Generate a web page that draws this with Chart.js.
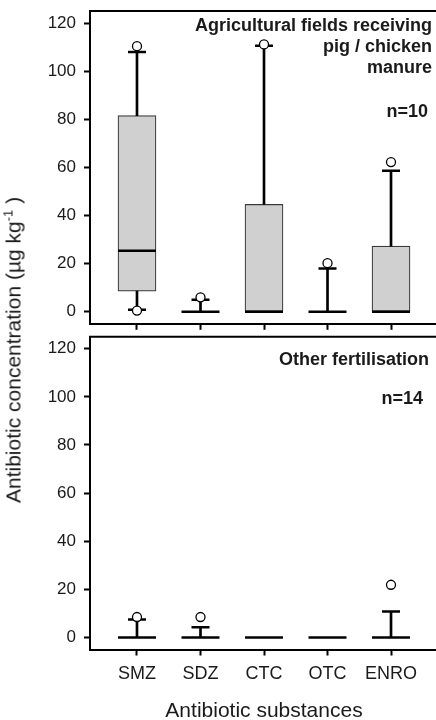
<!DOCTYPE html>
<html>
<head>
<meta charset="utf-8">
<script src="https://cdn.jsdelivr.net/npm/chart.js@4"></script>
<style>
  html, body { margin: 0; padding: 0; background: #fff; }
  #wrap { position: relative; width: 436px; height: 720px; overflow: hidden; font-family: "Liberation Sans", Arial, sans-serif; color: #1a1a1a; }
  .panel { position: absolute; left: 0; width: 440px; }
  .note { position: absolute; font-weight: bold; font-size: 18px; line-height: 21px; text-align: right; white-space: nowrap; }
  .atitle { position: absolute; font-size: 21px; line-height: 21px; white-space: nowrap; }
  sup { font-size: 13px; line-height: 0; vertical-align: 8px; }
</style>
</head>
<body>
<div id="wrap">
  <div class="panel" style="top:0;height:330px"><canvas id="topChart"></canvas></div>
  <div class="panel" style="top:330px;height:390px"><canvas id="bottomChart"></canvas></div>

  <div class="note" style="top:15px;right:4px">Agricultural fields receiving<br>pig / chicken<br>manure</div>
  <div class="note" style="top:101px;right:8px">n=10</div>
  <div class="note" style="top:349px;right:7px">Other fertilisation</div>
  <div class="note" style="top:388px;right:13px">n=14</div>

  <div class="atitle" style="left:13px;top:350px;transform:translate(-50%,-50%) rotate(-90deg)">Antibiotic concentration (µg kg<sup>-1</sup> )</div>
  <div class="atitle" style="left:264px;top:699px;transform:translateX(-50%)">Antibiotic substances</div>
</div>

<script>
const categories = ['SMZ', 'SDZ', 'CTC', 'OTC', 'ENRO'];
const yTicks = [0, 20, 40, 60, 80, 100, 120];

// pig / chicken manure fields, n=10
const manureQ1 = [8.6, 0, 0, 0, 0];
const manureMedian = [25.4, 0, 0, 0, 0];
const manureQ3 = [81.5, 0, 44.6, 0, 27.3];
const manureLow = [0.8, 0, 0, 0, 0];
const manureHigh = [108, 5, 110.6, 18, 58.6];
const manureOutliers = [[110.4, 0.5], [6], [111.1], [20.2], [62.2]];

// other fertilisation, n=14
const otherQ1 = [0, 0, 0, 0, 0];
const otherMedian = [0, 0, 0, 0, 0];
const otherQ3 = [0, 0, 0, 0, 0];
const otherLow = [0, 0, 0, 0, 0];
const otherHigh = [7.5, 4.2, 0, 0, 10.8];
const otherOutliers = [[8.5], [8.5], [], [], [21.9]];

function boxDatasets(q1, med, q3, lo, hi, outs) {
    const boxes = [], whiskers = [], caps = [], medians = [], points = [];
    categories.forEach((c, i) => {
        const x = i + 1;
        if (q3[i] > q1[i]) boxes.push({x: x, y: [q1[i], q3[i]]});
        if (hi[i] > q3[i]) { whiskers.push({x: x, y: [q3[i], hi[i]]}); caps.push({x: x, y: hi[i]}); }
        if (lo[i] < q1[i]) { whiskers.push({x: x, y: [lo[i], q1[i]]}); caps.push({x: x, y: lo[i]}); }
        medians.push({x: x, y: med[i]});
        outs[i].forEach(v => points.push({x: x, y: v}));
    });
    return [
        {type: 'bar', data: boxes, backgroundColor: '#d0d0d0', borderColor: '#3a3a3a',
         borderWidth: 1.2, borderSkipped: false, barThickness: 38, grouped: false, order: 5},
        {type: 'bar', data: whiskers, backgroundColor: '#000', borderWidth: 0,
         barThickness: 2, grouped: false, order: 4},
        {type: 'scatter', data: caps, pointStyle: 'line', pointRadius: 9,
         borderColor: '#000', pointBorderWidth: 2.5, order: 3},
        {type: 'scatter', data: medians, pointStyle: 'line', pointRadius: 19,
         borderColor: '#000', pointBorderWidth: 2.5, order: 2},
        {type: 'scatter', data: points, pointStyle: 'circle', pointRadius: 4.5,
         backgroundColor: '#fff', borderColor: '#000', pointBorderWidth: 1.3, order: 1}
    ];
}

const topLine = {
    id: 'topLine',
    afterDraw(chart) {
        const a = chart.chartArea, ctx = chart.ctx;
        ctx.save();
        ctx.strokeStyle = '#000';
        ctx.lineWidth = 2;
        ctx.beginPath();
        ctx.moveTo(a.left - 1, a.top);
        ctx.lineTo(a.right + 2, a.top);
        ctx.stroke();
        ctx.restore();
    }
};

function makeOptions(padTop, xHeight, showLabels) {
    return {
        responsive: false,
        animation: false,
        events: [],
        layout: {autoPadding: false, padding: {top: padTop, left: 0, right: 2, bottom: 0}},
        plugins: {legend: {display: false}, tooltip: {enabled: false}},
        scales: {
            x: {
                type: 'linear', min: 0.26, max: 5.74, offset: false,
                afterBuildTicks: s => { s.ticks = categories.map((c, i) => ({value: i + 1})); },
                afterFit: s => { s.height = xHeight; s.paddingLeft = 0; s.paddingRight = 0; },
                grid: {offset: false, drawOnChartArea: false, drawTicks: true, tickLength: 6, tickWidth: 2, tickColor: '#000'},
                border: {display: true, color: '#000', width: 2},
                ticks: {
                    display: showLabels, padding: 8, color: '#1a1a1a',
                    font: {family: 'Liberation Sans', size: 18},
                    callback: v => categories[v - 1]
                }
            },
            y: {
                min: -5, max: 125,
                afterBuildTicks: s => { s.ticks = yTicks.map(v => ({value: v})); },
                afterFit: s => { s.width = 90; s.paddingTop = 0; s.paddingBottom = 0; },
                grid: {drawOnChartArea: false, drawTicks: true, tickLength: 6, tickWidth: 2, tickColor: '#000'},
                border: {display: true, color: '#000', width: 2},
                ticks: {padding: 8, color: '#1a1a1a', font: {family: 'Liberation Sans', size: 17}}
            }
        }
    };
}

const topCanvas = document.getElementById('topChart');
topCanvas.width = 440; topCanvas.height = 330;
new Chart(topCanvas, {
    type: 'bar',
    data: {datasets: boxDatasets(manureQ1, manureMedian, manureQ3, manureLow, manureHigh, manureOutliers)},
    options: makeOptions(11, 6.2, false),
    plugins: [topLine]
});

const bottomCanvas = document.getElementById('bottomChart');
bottomCanvas.width = 440; bottomCanvas.height = 390;
new Chart(bottomCanvas, {
    type: 'bar',
    data: {datasets: boxDatasets(otherQ1, otherMedian, otherQ3, otherLow, otherHigh, otherOutliers)},
    options: makeOptions(6.7, 70.5, true),
    plugins: [topLine]
});
</script>
</body>
</html>
